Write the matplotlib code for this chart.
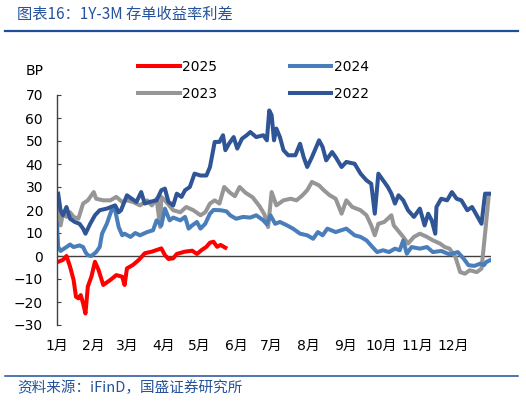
import matplotlib
matplotlib.use("Agg")
import matplotlib.pyplot as plt
from matplotlib.lines import Line2D

plt.rcParams['font.family'] = ['DejaVu Sans', 'Noto Sans CJK SC']

# day of year -> spread (BP)
days_2025 = [1, 5, 8, 11, 14, 16, 18, 20, 22, 24, 26, 29, 32, 35, 39, 45, 50, 55, 57, 59,
             64, 69, 74, 80, 84, 88, 91, 94, 98, 101, 108, 114, 118, 122, 126, 129, 132,
             135, 138, 142]
vals_2025 = [-2.5, -1.7, 0.0, -4.6, -10.4, -17.7, -18.4, -17.0, -20.6, -25.0, -13.3, -9.0,
             -2.5, -6.0, -12.6, -10.4, -8.3, -9.0, -12.6, -5.4, -3.9, -1.7, 1.2, 1.9, 2.6,
             3.3, 0.4, -1.3, -1.0, 0.9, 1.9, 2.3, 0.9, 2.6, 4.0, 5.8, 6.2, 4.0, 4.8, 3.6]

days_2024 = [0, 1, 3, 8, 11, 14, 19, 22, 24, 26, 29, 33, 36, 38, 42, 46, 49, 52, 55, 57,
             62, 66, 70, 76, 81, 84, 88, 91, 95, 98, 104, 108, 111, 114, 118, 121, 125,
             129, 132, 138, 143, 146, 151, 157, 163, 168, 174, 177, 180, 184, 188, 194,
             199, 205, 211, 216, 220, 224, 228, 235, 244, 251, 256, 261, 266, 270, 275,
             280, 285, 289, 292, 295, 299, 306, 312, 317, 324, 331, 338, 343, 347, 352,
             357, 360, 362, 365]
vals_2024 = [14.0, 4.0, 2.2, 3.9, 5.0, 3.9, 4.6, 3.9, 1.7, 0.3, 0.0, 1.7, 3.9, 9.7, 14.0,
             19.9, 20.0, 12.6, 9.0, 9.7, 8.3, 10.0, 9.0, 10.4, 11.2, 15.5, 13.3, 20.6, 15.5,
             16.7, 15.5, 17.0, 11.9, 13.3, 14.8, 11.9, 14.0, 18.4, 20.0, 19.9, 19.4, 17.7,
             16.2, 17.0, 16.7, 17.7, 15.5, 13.8, 17.7, 14.0, 14.8, 13.3, 11.9, 9.7, 9.0,
             7.5, 10.4, 9.0, 11.9, 10.4, 11.9, 9.0, 8.3, 6.8, 3.9, 1.7, 2.5, 1.7, 3.2, 2.5,
             6.8, 1.0, 3.9, 3.2, 3.9, 1.7, 2.2, 0.7, 1.7, -1.2, -4.0, -4.3, -3.3, -4.0,
             -2.6, -1.9]

days_2023 = [1, 3, 5, 8, 11, 14, 18, 22, 26, 31, 33, 39, 45, 50, 55, 59, 64, 70, 76, 80,
             84, 87, 88, 91, 98, 104, 109, 115, 121, 125, 129, 133, 137, 141, 146, 150,
             154, 159, 165, 171, 175, 178, 181, 185, 191, 197, 202, 207, 211, 215, 221,
             225, 230, 235, 240, 244, 249, 256, 261, 265, 268, 271, 276, 282, 284, 292,
             296, 301, 306, 312, 317, 323, 327, 331, 336, 340, 344, 348, 354, 358, 361, 364]
vals_2023 = [20.6, 13.3, 18.4, 17.0, 19.0, 17.0, 16.2, 22.8, 24.2, 27.8, 24.9, 24.2, 24.2,
             25.7, 23.5, 24.2, 23.5, 22.0, 24.2, 22.0, 24.9, 12.6, 25.7, 24.2, 19.9, 19.0,
             21.3, 19.9, 17.7, 19.0, 22.8, 24.2, 22.8, 30.0, 27.5, 26.0, 30.0, 27.5, 25.5,
             21.5, 18.0, 12.6, 27.8, 22.0, 24.2, 24.9, 24.2, 26.4, 28.6, 32.2, 30.7, 28.6,
             26.4, 24.9, 18.4, 24.2, 21.3, 19.9, 17.7, 13.3, 9.0, 14.0, 14.8, 17.7, 13.3,
             8.3, 5.4, 8.3, 9.7, 8.3, 6.8, 5.4, 3.9, 3.2, -0.4, -7.0, -7.7, -6.2, -7.0,
             -5.5, 9.7, 25.7]

days_2022 = [1, 3, 5, 8, 11, 15, 19, 22, 24, 28, 32, 36, 42, 49, 52, 54, 59, 63, 67, 71,
             74, 78, 84, 88, 91, 94, 98, 101, 105, 108, 112, 116, 121, 126, 129, 133, 137,
             140, 142, 145, 149, 152, 156, 160, 163, 168, 174, 177, 179, 181, 183, 185,
             188, 191, 195, 201, 205, 208, 211, 215, 221, 224, 227, 232, 235, 240, 244,
             251, 256, 261, 265, 268, 271, 275, 279, 282, 285, 288, 292, 296, 301, 306,
             310, 313, 316, 319, 320, 324, 329, 333, 337, 341, 346, 350, 354, 358, 361, 365]
vals_2022 = [27.1, 19.9, 17.7, 21.3, 16.2, 14.8, 14.0, 11.9, 9.7, 14.0, 17.7, 19.9, 20.6,
             22.0, 19.0, 19.9, 26.4, 24.9, 23.5, 27.8, 22.8, 23.5, 24.2, 28.6, 29.3, 23.5,
             22.0, 27.1, 25.7, 28.6, 30.0, 35.8, 35.0, 35.0, 38.7, 49.6, 49.6, 52.5, 46.0,
             48.8, 51.7, 46.7, 51.0, 52.5, 53.9, 51.7, 52.5, 50.3, 63.3, 61.2, 50.3, 55.4,
             51.7, 46.0, 43.8, 43.8, 48.8, 43.0, 38.7, 43.0, 50.3, 47.4, 41.6, 45.2, 43.0,
             38.7, 40.9, 40.1, 35.8, 32.9, 31.4, 18.4, 35.8, 32.9, 30.0, 27.1, 22.8, 26.4,
             24.2, 19.9, 17.0, 20.6, 13.3, 18.4, 15.5, 9.7, 21.3, 24.9, 24.2, 27.8, 24.9,
             24.2, 19.9, 21.3, 17.7, 14.0, 27.1, 27.1]

month_starts = [0, 31, 59, 90, 120, 151, 181, 212, 243, 273, 304, 334]
month_labels = ['1月', '2月', '3月', '4月', '5月', '6月', '7月', '8月', '9月', '10月', '11月', '12月']

W, H = 526, 401
fig = plt.figure(figsize=(W / 100, H / 100), dpi=100)
ax = fig.add_axes([57 / W, 1 - 325 / H, 434 / W, 230 / H])

lw = 2.9
l23, = ax.plot(days_2023, vals_2023, color='#969696', lw=lw, label='2023')
l24, = ax.plot(days_2024, vals_2024, color='#4A7EBB', lw=lw, label='2024')
l22, = ax.plot(days_2022, vals_2022, color='#2F5597', lw=lw, label='2022')
l25, = ax.plot(days_2025, vals_2025, color='#FF0000', lw=lw, label='2025')

ax.axhline(0, color='#404040', lw=1, zorder=1)
ax.set_xlim(0, 366)
ax.set_ylim(-30, 70)
ax.set_yticks(range(-30, 71, 10))
ax.set_xticks(month_starts)
ax.set_xticklabels(month_labels)
for s in ['top', 'right', 'bottom']:
    ax.spines[s].set_visible(False)
ax.spines['left'].set_color('#404040')
ax.spines['left'].set_linewidth(1)
ax.tick_params(axis='y', direction='in', length=3, pad=10, labelsize=10, color='#404040')
ax.tick_params(axis='x', length=0, pad=10, labelsize=10)
ax.patch.set_alpha(0)

fig.legend([l25, l23, l24, l22], ['2025', '2023', '2024', '2022'], ncol=2,
           loc='upper left', bbox_to_anchor=(138 / W, 1 - 60 / H), bbox_transform=fig.transFigure,
           frameon=False, fontsize=10, handlelength=3.0, handletextpad=0.2,
           columnspacing=5.2, labelspacing=0.9, borderpad=0, borderaxespad=0)

fig.text(26 / W, 1 - 71 / H, 'BP', fontsize=10, va='center', ha='left')

# header / footer
title_color = '#24529C'
fig.text(17 / W, 1 - 14 / H, '图表16：1Y-3M 存单收益率利差', fontsize=11, color=title_color,
         va='center', ha='left', style='italic', family=['Noto Sans CJK SC', 'DejaVu Sans'])
fig.add_artist(Line2D([5 / W, 518 / W], [1 - 31 / H, 1 - 31 / H], color='#1F4E99', lw=1.6))
fig.add_artist(Line2D([5 / W, 518 / W], [1 - 376 / H, 1 - 376 / H], color='#1F4E99', lw=1.1))
fig.text(17 / W, 1 - 388 / H, '资料来源：iFinD，国盛证券研究所', fontsize=10.5, color=title_color,
         va='center', ha='left', style='italic', family=['Noto Sans CJK SC', 'DejaVu Sans'])

fig.savefig('out.png', dpi=100)
